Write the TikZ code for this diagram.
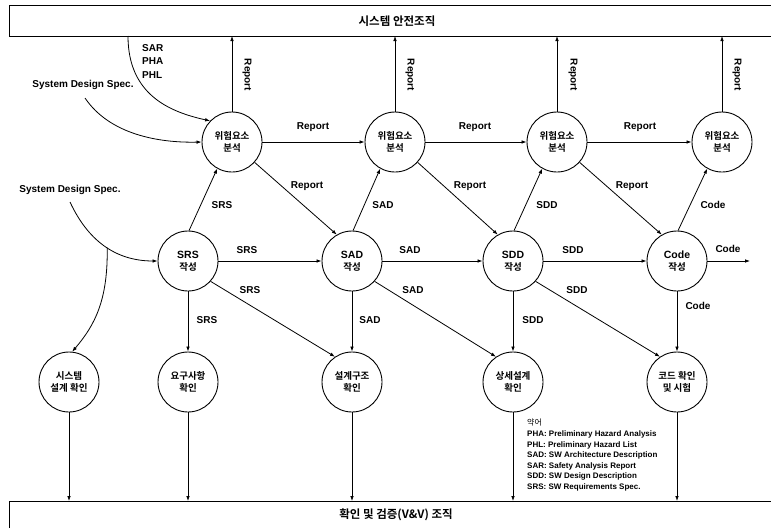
\documentclass[tikz,border=0pt]{standalone}
\usepackage{fontspec}
\setmainfont{Liberation Sans}
\newfontfamily\kr{Noto Sans CJK KR Bold}
\newfontfamily\krr{Noto Sans CJK KR}
\usetikzlibrary{arrows.meta}
\begin{document}
\begin{tikzpicture}[x=1pt,y=-1pt,
  proc/.style={circle, draw, line width=0.9pt, minimum size=60pt, inner sep=0pt, align=center,
    font=\kr\fontsize{9.5}{12}\selectfont},
  arr/.style={-{Latex[length=5pt,width=3.6pt]}, line width=0.8pt},
  plain/.style={line width=0.8pt},
  lbl/.style={font=\bfseries\fontsize{10}{12}\selectfont, inner sep=0pt},
  vlbl/.style={lbl, rotate=-90},
  ttl/.style={font=\kr\fontsize{11.5}{13}\selectfont, inner sep=0pt},
  lat/.style={font=\bfseries\fontsize{10.5}{12}\selectfont}
]
\useasboundingbox (0,0) rectangle (771,528);
\fill[white] (0,0) rectangle (771,528);

% organisation boxes
\draw[plain] (771,5) -- (9,5) -- (9,36) -- (771,36);
\node[ttl] (topt) at (397,21) {시스템 안전조직};
\coordinate (topline) at (0,36);
\draw[plain] (9,528) -- (9,501) -- (771,501);
\node[ttl] (bott) at (396,515) {확인 및 검증(V\&V) 조직};
\coordinate (botline) at (0,501);

% hazard analysis circles
\node[proc] (h1) at (232,142) {위험요소\\분석};
\node[proc] (h2) at (395,142) {위험요소\\분석};
\node[proc] (h3) at (557,142) {위험요소\\분석};
\node[proc] (h4) at (722,142) {위험요소\\분석};

% creation circles
\node[proc] (c1) at (188,261) {{\bfseries\fontspec{Liberation Sans}\fontsize{10.5}{12}\selectfont SRS}\\작성};
\node[proc] (c2) at (352,261) {{\bfseries\fontspec{Liberation Sans}\fontsize{10.5}{12}\selectfont SAD}\\작성};
\node[proc] (c3) at (513,261) {{\bfseries\fontspec{Liberation Sans}\fontsize{10.5}{12}\selectfont SDD}\\작성};
\node[proc] (c4) at (677,261) {{\bfseries\fontspec{Liberation Sans}\fontsize{10.5}{12}\selectfont Code}\\작성};

% verification circles
\node[proc] (v0) at (69,382) {시스템\\설계 확인};
\node[proc] (v1) at (188,382) {요구사항\\확인};
\node[proc] (v2) at (352,382) {설계구조\\확인};
\node[proc] (v3) at (513,382) {상세설계\\확인};
\node[proc] (v4) at (677,382) {코드 확인\\및 시험};

% reports up to safety organisation
\foreach \h/\lx in {h1/247,h2/410,h3/573,h4/737}{
  \draw[arr] (\h.north) -- (\h.north |- topline);
  \node[vlbl] at (\lx,75) {Report};
}

% inputs
\coordinate (sarS) at (128,36);
\coordinate (sds1S) at (85,98);
\coordinate (sds2S) at (70,202);
\coordinate (brS) at (107.2,247.6);
\draw[arr] (sarS) .. controls (128,95) and (170,112) .. (h1.136);
\node[lbl, align=left, anchor=north west, font=\bfseries\fontsize{10}{13.5}\selectfont] (sar) at (142,44) {SAR\\PHA\\PHL};
\node[lbl] (sds1) at (83,85) {System Design Spec.};
\draw[arr] (sds1S) .. controls (110,135) and (160,143) .. (h1.west);
\node[lbl] (sds2) at (70,190) {System Design Spec.};
\draw[arr] (sds2S) .. controls (90,245) and (120,261) .. (c1.west);
\draw[arr] (brS) .. controls (108,300) and (95,325) .. (v0.84);

% hazard to hazard
\draw[arr] (h1.east) -- (h2.west);
\draw[arr] (h2.east) -- (h3.west);
\draw[arr] (h3.east) -- (h4.west);
\node[lbl] at (313,127) {Report};
\node[lbl] at (475,127) {Report};
\node[lbl] at (640,127) {Report};

% hazard to next creation
\draw[arr] (h1.-42) -- (c2.120);
\draw[arr] (h2.-42) -- (c3.120);
\draw[arr] (h3.-42) -- (c4.120);
\node[lbl] at (307,186) {Report};
\node[lbl] at (470,186) {Report};
\node[lbl] at (632,186) {Report};

% creation up to hazard
\draw[arr] (c1.88) -- (h1.241);
\draw[arr] (c2.88) -- (h2.241);
\draw[arr] (c3.88) -- (h3.241);
\draw[arr] (c4.88) -- (h4.241);
\node[lbl] at (222,205) {SRS};
\node[lbl] at (383,205) {SAD};
\node[lbl] at (547,205) {SDD};
\node[lbl] at (713,205) {Code};

% creation to creation
\coordinate (codeout) at (750,261);
\draw[arr] (c1.east) -- (c2.west);
\draw[arr] (c2.east) -- (c3.west);
\draw[arr] (c3.east) -- (c4.west);
\draw[arr] (c4.east) -- (codeout);
\node[lbl] at (247,250) {SRS};
\node[lbl] at (410,250) {SAD};
\node[lbl] at (573,250) {SDD};
\node[lbl] at (728,249) {Code};

% creation diagonal to verification
\draw[arr] (c1.-42) -- (v2.124);
\draw[arr] (c2.-42) -- (v3.124);
\draw[arr] (c3.-42) -- (v4.124);
\node[lbl] at (250,290) {SRS};
\node[lbl] at (413,290) {SAD};
\node[lbl] at (577,290) {SDD};

% creation down to verification
\draw[arr] (c1.south) -- (v1.north);
\draw[arr] (c2.south) -- (v2.north);
\draw[arr] (c3.south) -- (v3.north);
\draw[arr] (c4.south) -- (v4.north);
\node[lbl] at (207,320) {SRS};
\node[lbl] at (370,320) {SAD};
\node[lbl] at (533,320) {SDD};
\node[lbl] at (698,306) {Code};

% verification to V&V organisation
\foreach \v in {v0,v1,v2,v3,v4}{
  \draw[arr] (\v.south) -- (\v.south |- botline);
}

% legend
\node[anchor=north west, align=left, inner sep=0pt, font=\bfseries\fontsize{8}{10.6}\selectfont] (legend) at (527,419)
  {{\krr\mdseries 약어}\\
   PHA: Preliminary Hazard Analysis\\
   PHL: Preliminary Hazard List\\
   SAD: SW Architecture Description\\
   SAR: Safety Analysis Report\\
   SDD: SW Design Description\\
   SRS: SW Requirements Spec.};
\end{tikzpicture}
\end{document}
